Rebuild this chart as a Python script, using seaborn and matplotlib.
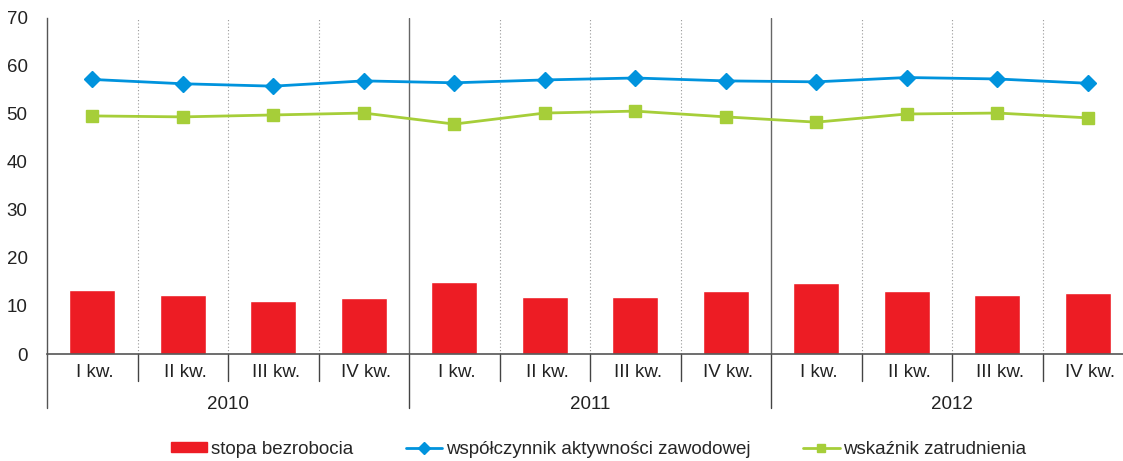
import matplotlib
matplotlib.use('Agg')
import matplotlib.pyplot as plt
import seaborn as sns
import pandas as pd
from matplotlib.lines import Line2D
from matplotlib.patches import Patch

years = ['2010', '2011', '2012']
quarters = ['I kw.', 'II kw.', 'III kw.', 'IV kw.']
stopa_bezrobocia = [13.3, 12.3, 11.0, 11.7, 15.0, 11.9, 11.9, 13.1, 14.8, 13.1, 12.3, 12.7]
wsp_aktywnosci = [57.2, 56.3, 55.8, 56.9, 56.5, 57.1, 57.5, 56.9, 56.7, 57.6, 57.3, 56.4]
wsk_zatrudnienia = [49.6, 49.4, 49.8, 50.2, 47.9, 50.2, 50.6, 49.4, 48.3, 50.0, 50.2, 49.2]

sns.set_style("white")
plt.rcParams['font.family'] = ['Liberation Sans', 'DejaVu Sans']

labels = [f'{q} {y}' for y in years for q in quarters]
df = pd.DataFrame({'okres': labels, 'stopa': stopa_bezrobocia,
                   'akt': wsp_aktywnosci, 'zatr': wsk_zatrudnienia,
                   'pos': range(len(labels))})

red = '#ED1C24'
blue = '#0093DD'
green = '#A6CE39'
dark = '#555555'
txt = '#222222'
fs = 13.5

fig = plt.figure(figsize=(11.23, 4.61), dpi=100)
W, H = 1123, 461
ax = fig.add_axes([47 / W, (H - 354) / H, (1133 - 47) / W, (354 - 18) / H])

sns.barplot(data=df, x='okres', y='stopa', order=labels, color=red,
            width=0.51, saturation=1, ax=ax)
ax.plot(df['pos'], df['akt'], color=blue, lw=2, marker='D', ms=8, zorder=5)
ax.plot(df['pos'], df['zatr'], color=green, lw=2, marker='s', ms=9, zorder=5)

ax.set_xlim(-0.5, 11.5)
ax.set_ylim(0, 70)
ax.set_yticks(range(0, 71, 10))
ax.tick_params(axis='y', labelsize=fs, length=6, color=dark, pad=8, labelcolor=txt)
ax.set_xticks([])
ax.set_xlabel('')
ax.set_ylabel('')
for s in ['top', 'right']:
    ax.spines[s].set_visible(False)
ax.spines['left'].set_color(dark)
ax.spines['bottom'].set_color(dark)
ax.spines['left'].set_linewidth(1)
ax.spines['bottom'].set_linewidth(1.2)

trans = ax.get_xaxis_transform()
px = 1 / (354 - 18)  # one pixel in axes fraction (vertical)

# separators between quarters and years
for i in range(1, 12):
    xb = i - 0.5
    if i % 4 == 0:
        ax.plot([xb, xb], [0, 1], color='#666666', lw=1, transform=trans, zorder=1)
        ax.plot([xb, xb], [0, -54 * px], color='#444444', lw=1, transform=trans, clip_on=False)
    else:
        ax.plot([xb, xb], [0, 1], color='#999999', lw=0.8, ls=(0, (1, 2)), transform=trans, zorder=1)
        ax.plot([xb, xb], [0, -27 * px], color='#444444', lw=1, transform=trans, clip_on=False)
ax.plot([-0.5, -0.5], [0, -54 * px], color=dark, lw=1, transform=trans, clip_on=False)

for i, q in enumerate(quarters * len(years)):
    ax.text(i + 0.03, -18 * px, q, ha='center', va='center', fontsize=fs, color=txt,
            transform=trans)
for j, y in enumerate(years):
    ax.text(j * 4 + 1.5, -50 * px, y, ha='center', va='center', fontsize=fs,
            color=txt, transform=trans)

handles = [Patch(color=red, label='stopa bezrobocia'),
           Line2D([], [], color=blue, lw=2, marker='D', ms=6, label='współczynnik aktywności zawodowej'),
           Line2D([], [], color=green, lw=2, marker='s', ms=6, label='wskaźnik zatrudnienia')]
fig.legend(handles=handles, loc='center', bbox_to_anchor=(0.533, (H - 449) / H), ncol=3,
           frameon=False, fontsize=fs, handlelength=1.95, handletextpad=0.2,
           columnspacing=2.8, handleheight=0.5)

fig.savefig('out.png', dpi=100)
